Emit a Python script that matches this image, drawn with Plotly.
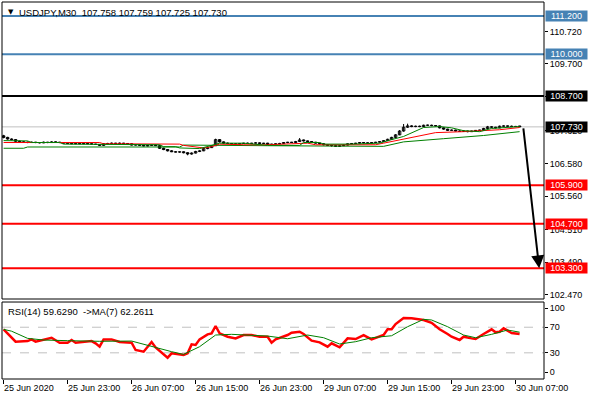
import plotly.graph_objects as go

# ---------------- data ----------------
bar_idx = list(range(130))
opens = [107.45,107.40,107.35,107.33,107.28,107.26,107.25,107.24,107.25,107.24,
         107.23,107.25,107.24,107.26,107.25,107.24,107.22,107.21,107.20,107.21,
         107.20,107.21,107.20,107.19,107.18,107.15,107.20,107.21,107.22,107.21,
         107.22,107.21,107.20,107.16,107.17,107.15,107.13,107.15,107.16,107.14,
         107.06,107.02,106.98,106.95,106.94,106.95,106.92,106.88,106.91,106.96,
         106.98,107.05,107.08,107.14,107.33,107.26,107.22,107.21,107.20,107.19,
         107.21,107.22,107.21,107.22,107.23,107.21,107.22,107.18,107.19,107.20,
         107.21,107.24,107.25,107.24,107.27,107.32,107.29,107.27,107.25,107.22,
         107.20,107.17,107.15,107.14,107.12,107.14,107.16,107.20,107.21,107.22,
         107.24,107.23,107.22,107.24,107.25,107.27,107.30,107.34,107.40,107.48,
         107.60,107.72,107.76,107.74,107.75,107.74,107.78,107.78,107.77,107.76,
         107.70,107.66,107.62,107.63,107.60,107.59,107.60,107.58,107.60,107.62,
         107.63,107.68,107.73,107.72,107.70,107.75,107.76,107.75,107.74,107.758]
highs = [107.48,107.42,107.37,107.34,107.30,107.28,107.27,107.27,107.26,107.25,
         107.27,107.26,107.28,107.27,107.26,107.25,107.23,107.22,107.23,107.22,
         107.22,107.22,107.21,107.20,107.19,107.21,107.23,107.24,107.23,107.24,
         107.23,107.22,107.21,107.18,107.18,107.16,107.16,107.17,107.17,107.15,
         107.08,107.03,107.00,106.97,106.96,106.96,106.93,106.93,106.98,107.00,
         107.07,107.10,107.16,107.36,107.35,107.27,107.24,107.22,107.21,107.22,
         107.23,107.24,107.23,107.25,107.24,107.23,107.23,107.20,107.21,107.23,
         107.25,107.26,107.26,107.29,107.38,107.33,107.30,107.28,107.26,107.23,
         107.21,107.18,107.16,107.15,107.15,107.18,107.21,107.22,107.23,107.25,
         107.25,107.24,107.25,107.26,107.28,107.31,107.36,107.42,107.50,107.63,
         107.82,107.83,107.78,107.77,107.77,107.80,107.80,107.80,107.78,107.77,
         107.71,107.67,107.65,107.64,107.62,107.62,107.61,107.61,107.63,107.64,
         107.70,107.76,107.75,107.73,107.77,107.78,107.77,107.77,107.76,107.759]
lows = [107.37,107.33,107.31,107.26,107.24,107.23,107.22,107.23,107.22,107.21,
        107.22,107.22,107.23,107.23,107.22,107.21,107.20,107.19,107.19,107.19,
        107.19,107.19,107.18,107.17,107.14,107.14,107.19,107.20,107.20,107.20,
        107.20,107.19,107.15,107.15,107.14,107.12,107.12,107.14,107.13,107.04,
        107.00,106.96,106.94,106.93,106.92,106.90,106.84,106.86,106.90,106.94,
        106.97,107.03,107.07,107.13,107.24,107.20,107.20,107.18,107.17,107.18,
        107.20,107.20,107.20,107.21,107.20,107.20,107.17,107.17,107.18,107.19,
        107.20,107.22,107.22,107.23,107.26,107.27,107.25,107.23,107.21,107.18,
        107.15,107.13,107.11,107.10,107.11,107.13,107.15,107.19,107.20,107.21,
        107.21,107.20,107.21,107.23,107.24,107.26,107.29,107.33,107.39,107.47,
        107.58,107.70,107.72,107.72,107.72,107.73,107.76,107.75,107.74,107.68,
        107.64,107.60,107.61,107.59,107.57,107.58,107.56,107.57,107.59,107.61,
        107.62,107.67,107.70,107.68,107.69,107.74,107.73,107.73,107.73,107.725]
closes = [107.40,107.35,107.33,107.28,107.26,107.25,107.24,107.25,107.24,107.23,
          107.25,107.24,107.26,107.25,107.24,107.22,107.21,107.20,107.21,107.20,
          107.21,107.20,107.19,107.18,107.15,107.20,107.21,107.22,107.21,107.22,
          107.21,107.20,107.16,107.17,107.15,107.13,107.15,107.16,107.14,107.06,
          107.02,106.98,106.95,106.94,106.95,106.92,106.88,106.91,106.96,106.98,
          107.05,107.08,107.14,107.33,107.26,107.22,107.21,107.20,107.19,107.21,
          107.22,107.21,107.22,107.23,107.21,107.22,107.18,107.19,107.20,107.21,
          107.24,107.25,107.24,107.27,107.32,107.29,107.27,107.25,107.22,107.20,
          107.17,107.15,107.14,107.12,107.14,107.16,107.20,107.21,107.22,107.24,
          107.23,107.22,107.24,107.25,107.27,107.30,107.34,107.40,107.48,107.60,
          107.72,107.76,107.74,107.75,107.74,107.78,107.78,107.77,107.76,107.70,
          107.66,107.62,107.63,107.60,107.59,107.60,107.58,107.60,107.62,107.63,
          107.68,107.73,107.72,107.70,107.75,107.76,107.75,107.74,107.74,107.730]

ma_fast_idx = [0, 6, 7, 14, 15, 33, 34, 39, 40, 43, 44, 46, 47, 49, 52, 54, 60, 66, 74, 75, 79, 80, 87, 94, 97, 100, 105, 109, 112, 115, 119, 122, 129]
ma_fast_val = [107.30, 107.29, 107.24, 107.24, 107.19, 107.19, 107.17, 107.17, 107.11, 107.11, 107.07, 107.07, 107.05, 107.05, 107.15, 107.22, 107.22, 107.15, 107.15, 107.24, 107.24, 107.19, 107.19, 107.22, 107.33, 107.43, 107.71, 107.74, 107.70, 107.61, 107.58, 107.68, 107.74]
ma_mid_idx = [0, 24, 25, 44, 45, 48, 50, 52, 54, 60, 66, 72, 76, 78, 93, 95, 97, 100, 104, 108, 115, 120, 124, 129]
ma_mid_val = [107.24, 107.24, 107.20, 107.19, 107.15, 107.11, 107.07, 107.11, 107.19, 107.17, 107.17, 107.20, 107.22, 107.17, 107.17, 107.22, 107.27, 107.34, 107.45, 107.55, 107.58, 107.61, 107.64, 107.71]
ma_slow_idx = [0, 5, 6, 44, 45, 60, 66, 95, 100, 110, 120, 129]
ma_slow_val = [107.06, 107.06, 107.10, 107.10, 107.16, 107.16, 107.14, 107.12, 107.26, 107.36, 107.46, 107.58]

rsi_idx = [0, 3, 6, 7, 8, 10, 12, 14, 16, 17, 18, 22, 23, 24, 25, 27, 29, 32, 33, 35, 37, 38, 41, 42, 45, 46, 47, 48, 49, 51, 52, 53, 54, 56, 58, 60, 62, 64, 66, 67, 68, 71, 72, 74, 75, 77, 79, 81, 82, 84, 86, 88, 90, 92, 94, 95, 96, 97, 98, 100, 102, 105, 107, 109, 111, 112, 114, 115, 117, 118, 120, 122, 123, 124, 125, 126, 127, 129]
rsi_val = [66.7, 47.4, 48.4, 51.0, 47.4, 50.0, 53.6, 45.8, 45.8, 50.0, 45.8, 48.4, 44.8, 39.6, 51.0, 51.0, 46.9, 45.8, 34.4, 31.8, 46.9, 38.5, 22.4, 29.2, 26.6, 29.2, 43.2, 42.2, 51.0, 58.9, 60.4, 71.9, 60.4, 55.2, 52.6, 57.8, 57.8, 55.2, 55.2, 45.8, 51.0, 57.8, 61.4, 63.0, 59.4, 49.0, 46.4, 39.6, 44.8, 38.6, 52.6, 51.6, 57.8, 51.0, 55.2, 57.8, 66.7, 66.7, 75.0, 84.4, 83.9, 81.3, 77.0, 66.7, 59.4, 55.2, 50.0, 55.2, 52.6, 51.6, 59.4, 66.7, 62.0, 63.0, 68.3, 64.5, 61.0, 59.6]
rsi_ma_idx = [0, 2, 6, 10, 16, 24, 32, 37, 42, 45, 49, 53, 57, 66, 71, 76, 80, 84, 88, 92, 97, 101, 105, 107, 111, 115, 118, 122, 126, 129]
rsi_ma_val = [66.7, 63.8, 52.6, 50.0, 49.0, 48.0, 48.4, 39.6, 31.8, 27.6, 39.6, 57.8, 58.9, 56.2, 52.0, 57.8, 53.6, 43.8, 47.4, 53.6, 56.7, 70.8, 82.3, 81.3, 70.8, 57.8, 53.6, 58.9, 65.6, 62.3]

time_tick_idx = [0, 16, 32, 48, 64, 80, 96, 112, 128]
time_tick_text = ['25 Jun 2020', '25 Jun 23:00', '26 Jun 07:00', '26 Jun 15:00', '26 Jun 23:00',
                  '29 Jun 07:00', '29 Jun 15:00', '29 Jun 23:00', '30 Jun 07:00']
price_ticks = [110.72, 109.70, 108.68, 107.62, 106.58, 105.56, 104.51, 103.49, 102.47]
rsi_ticks = [0, 30, 70, 100]
rsi_levels = [30, 70]

blue_levels = [111.20, 110.00]
black_levels = [108.70]
red_levels = [105.90, 104.70, 103.30]
current_price = 107.730
arrow_from = (129.9, 107.73)
arrow_to = (133.9, 103.30)

header = "USDJPY,M30\u00a0\u00a0107.758 107.759 107.725 107.730"
rsi_label = "RSI(14) 59.6290\u00a0\u00a0->MA(7) 62.2611"

# ---------------- figure ----------------
FONT = "Liberation Sans, Arial, sans-serif"
BLUE = "#4682B4"
RED = "#FF0000"
GREEN = "#008000"

fig = go.Figure()

# candle wicks
wx, wy = [], []
for i, h, l in zip(bar_idx, highs, lows):
    wx += [i, i, None]
    wy += [l, h, None]
fig.add_trace(go.Scatter(x=wx, y=wy, mode="lines", line=dict(color="black", width=1),
                         xaxis="x", yaxis="y", showlegend=False, hoverinfo="skip"))

# candle bodies
for up, fill in [(True, "white"), (False, "black")]:
    bx, bbase, bh = [], [], []
    for i, o, c in zip(bar_idx, opens, closes):
        if (c >= o) == up:
            bx.append(i)
            bbase.append(min(o, c))
            bh.append(max(abs(c - o), 0.004))
    fig.add_trace(go.Bar(x=bx, y=bh, base=bbase, width=0.62, marker=dict(color=fill,
                         line=dict(color="black", width=1)), xaxis="x", yaxis="y",
                         showlegend=False, hoverinfo="skip"))

for xs, ys, col in [(ma_slow_idx, ma_slow_val, GREEN), (ma_mid_idx, ma_mid_val, RED),
                    (ma_fast_idx, ma_fast_val, GREEN)]:
    fig.add_trace(go.Scatter(x=xs, y=ys, mode="lines", line=dict(color=col, width=1),
                             xaxis="x", yaxis="y", showlegend=False, hoverinfo="skip"))

fig.add_trace(go.Scatter(x=rsi_idx, y=rsi_val, mode="lines", line=dict(color=RED, width=2.5),
                         xaxis="x2", yaxis="y2", showlegend=False, hoverinfo="skip"))
fig.add_trace(go.Scatter(x=rsi_ma_idx, y=rsi_ma_val, mode="lines", line=dict(color=GREEN, width=1),
                         xaxis="x2", yaxis="y2", showlegend=False, hoverinfo="skip"))

shapes = []
def hline(y, color, width, yref="y", dash="solid"):
    shapes.append(dict(type="line", xref="x domain", yref=yref, x0=0, x1=1, y0=y, y1=y,
                       line=dict(color=color, width=width, dash=dash), layer="below"))

hline(current_price, "#C0C0C0", 1)
for v in blue_levels:
    hline(v, BLUE, 2)
for v in black_levels:
    hline(v, "black", 2)
for v in red_levels:
    hline(v, RED, 2)
for v in rsi_levels:
    shapes.append(dict(type="line", xref="x2 domain", yref="y2", x0=0, x1=1, y0=v, y1=v,
                       line=dict(color="#C0C0C0", width=1, dash="dash"), layer="below"))

MAIN_DOM = [0.2122, 1.0]
RSI_DOM = [0.0, 0.2042]
for d in (MAIN_DOM, RSI_DOM):
    shapes.append(dict(type="rect", xref="paper", yref="paper", x0=0, x1=1, y0=d[0], y1=d[1],
                       line=dict(color="black", width=1), fillcolor="rgba(0,0,0,0)", layer="above"))

annotations = []
def tag(y, text, bg):
    annotations.append(dict(xref="paper", yref="y", x=1, y=y, xanchor="left", yanchor="middle",
                            xshift=1, text=text, showarrow=False, bgcolor=bg, borderpad=0,
                            width=41, height=10, align="center",
                            font=dict(family=FONT, size=9, color="white")))

for v in blue_levels:
    tag(v, f"{v:.3f}", BLUE)
for v in black_levels:
    tag(v, f"{v:.3f}", "black")
tag(current_price, f"{current_price:.3f}", "black")
for v in red_levels:
    tag(v, f"{v:.3f}", RED)

annotations.append(dict(xref="x", yref="y", x=arrow_to[0], y=arrow_to[1],
                        axref="x", ayref="y", ax=arrow_from[0], ay=arrow_from[1],
                        showarrow=True, arrowhead=2, arrowsize=1.3, arrowwidth=2,
                        arrowcolor="black", text="", standoff=0))

annotations.append(dict(xref="paper", yref="paper", x=0, y=1, xanchor="left", yanchor="top",
                        xshift=4, yshift=-4, text="\u25BC", showarrow=False,
                        font=dict(family="DejaVu Sans", size=7, color="black")))
annotations.append(dict(xref="paper", yref="paper", x=0, y=1, xanchor="left", yanchor="top",
                        xshift=15, yshift=-3, text=header, showarrow=False,
                        font=dict(family=FONT, size=9.5, color="black")))
annotations.append(dict(xref="paper", yref="paper", x=0, y=RSI_DOM[1], xanchor="left", yanchor="top",
                        xshift=4, yshift=-2, text=rsi_label, showarrow=False,
                        font=dict(family=FONT, size=9.5, color="black")))

X_RANGE = [-0.4, 135.1]
fig.update_layout(
    width=590, height=400,
    margin=dict(l=2, r=46, t=2, b=21, pad=0),
    paper_bgcolor="white", plot_bgcolor="white",
    font=dict(family=FONT, size=9, color="black"),
    showlegend=False, barmode="overlay",
    shapes=shapes, annotations=annotations,
    xaxis=dict(domain=[0, 1], anchor="y", range=X_RANGE, showticklabels=False, ticks="",
               showgrid=False, zeroline=False, showline=False),
    xaxis2=dict(domain=[0, 1], anchor="y2", range=X_RANGE, matches="x",
                tickmode="array", tickvals=time_tick_idx, ticktext=time_tick_text,
                ticks="outside", ticklen=4, tickcolor="black", ticklabelposition="outside right",
                showgrid=False, zeroline=False, showline=False,
                tickfont=dict(family=FONT, size=9, color="black")),
    yaxis=dict(domain=MAIN_DOM, anchor="x", side="right", range=[102.34, 111.64],
               tickmode="array", tickvals=price_ticks, ticktext=[f"{v:.3f}" for v in price_ticks],
               ticks="outside", ticklen=3, tickcolor="black", showgrid=False, zeroline=False,
               showline=False, tickfont=dict(family=FONT, size=9, color="black")),
    yaxis2=dict(domain=RSI_DOM, anchor="x2", side="right", range=[-10.9, 109.4],
                tickmode="array", tickvals=rsi_ticks, ticktext=[str(v) for v in rsi_ticks],
                ticks="outside", ticklen=3, tickcolor="black", showgrid=False, zeroline=False,
                showline=False, tickfont=dict(family=FONT, size=9, color="black")),
)

fig.write_html("out.html", config={"displayModeBar": False, "staticPlot": True},
               post_script="document.body.style.margin='0';document.body.style.overflow='hidden';")
